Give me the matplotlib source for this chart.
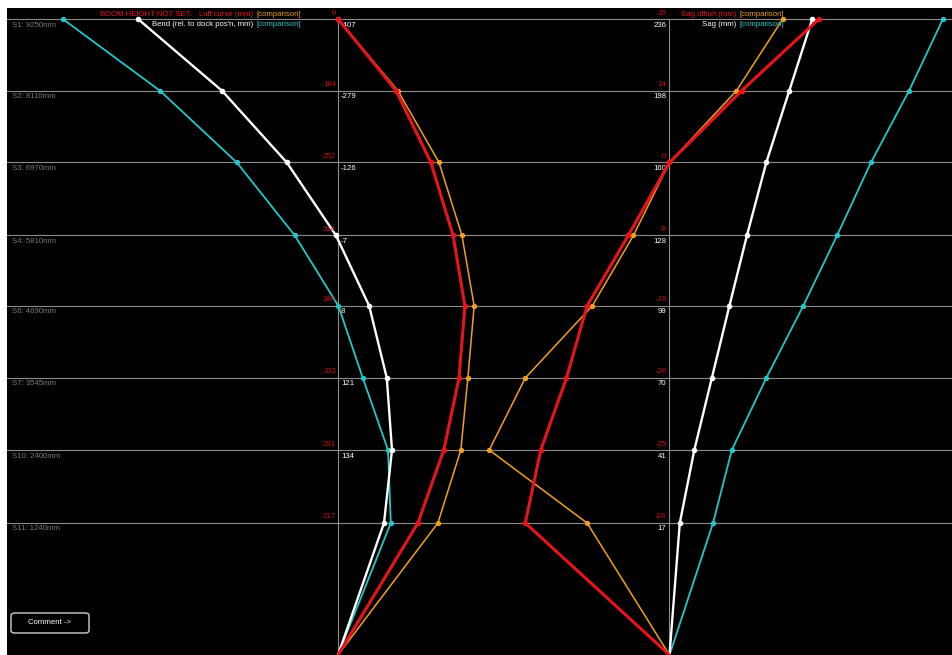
import matplotlib
matplotlib.use("Agg")
import matplotlib.pyplot as plt
from matplotlib.patches import FancyBboxPatch

# ---------------- data ----------------
stations = ["S1: 9250mm", "S2: 8110mm", "S3: 6970mm", "S4: 5810mm",
            "S6: 4690mm", "S7: 3545mm", "S10: 2400mm", "S11: 1240mm"]
heights = [9250, 8110, 6970, 5810, 4690, 3545, 2400, 1240]
tack_height = -858          # all curves meet here (bottom edge)

bend = [-500, -290, -128, -5, 78, 122, 135, 115]
bend_cmp = [-688, -445, -253, -108, 1, 62, 125, 132]
bend_labels = ["-407", "-279", "-126", "-7", "8", "121", "134", ""]

luff = [0, 157, 251, 311, 343, 327, 286, 216]
luff_cmp = [0, 162, 273, 335, 368, 351, 332, 270]
luff_labels = ["0", "184", "252", "314", "340", "333", "291", "217"]

sag = [236, 198, 160, 128, 99, 70, 41, 17]
sag_cmp = [452, 396, 333, 277, 221, 160, 103, 72]
sag_labels = ["236", "198", "160", "128", "99", "70", "41", "17"]

sag_off = [29, 14, 0, -8, -16, -20, -25, -28]
sag_off_cmp = [22, 13, 0, -7, -15, -28, -35, -16]
sag_off_labels = ["29", "14", "0", "-8", "-16", "-20", "-25", "-28"]

# ---------------- style ----------------
W, H = 952, 655
RED = "#e8141a"
ORANGE = "#f0a020"
CYAN = "#22c8c8"
WHITE = "#ffffff"
GRID = "#8c8c8c"
LABEL_RED = "#c81010"
STATION_GREY = "#7a7a7a"
FS = 5.6
FONT = ["Liberation Sans", "DejaVu Sans"]
plt.rcParams["font.family"] = FONT

fig = plt.figure(figsize=(W / 100, H / 100), dpi=100, facecolor="white")
ax_left_px, ax_top_px = 7, 8
ax = fig.add_axes([ax_left_px / W, 0, (W - ax_left_px) / W, (H - ax_top_px) / H])
ax.set_facecolor("black")
for s in ax.spines.values():
    s.set_visible(False)
ax.set_xticks([]); ax.set_yticks([])

ylim = (tack_height, 9425)
ax.set_ylim(*ylim)


def make_axis(zero_px, px_per_unit, first=False):
    a = ax if first else ax.twiny()
    a.set_xlim((ax_left_px - zero_px) / px_per_unit, (W - zero_px) / px_per_unit)
    a.set_ylim(*ylim)
    a.set_xticks([]); a.set_yticks([])
    for s in a.spines.values():
        s.set_visible(False)
    if not first:
        a.patch.set_visible(False)
    return a


ax_bend = make_axis(338, 0.40, first=True)
ax_luff = make_axis(338, 0.37)
ax_sag = make_axis(669.5, 0.605)
ax_off = make_axis(669.5, 5.15)

# grid lines
for h in heights:
    ax.axhline(h, color=GRID, lw=0.8, zorder=1)
ax_bend.plot([0, 0], [tack_height, heights[0]], color=GRID, lw=0.8, zorder=1)
ax_sag.plot([0, 0], [tack_height, heights[0]], color=GRID, lw=0.8, zorder=1)

ys = heights + [tack_height]


def series(a, vals, color, lw, ms, z):
    a.plot(list(vals) + [0], ys, color=color, lw=lw, zorder=z)
    a.plot(vals, heights, "o", color=color, ms=ms, mec=color, zorder=z + 0.1)


series(ax_bend, bend_cmp, CYAN, 1.3, 2.8, 3)
series(ax_bend, bend, WHITE, 1.7, 3.0, 4)
series(ax_luff, luff_cmp, ORANGE, 1.1, 2.8, 3)
series(ax_luff, luff, RED, 2.2, 3.0, 4)
series(ax_off, sag_off_cmp, ORANGE, 1.1, 2.8, 3)
series(ax_off, sag_off, RED, 2.2, 3.0, 4)
series(ax_sag, sag_cmp, CYAN, 1.3, 2.8, 3)
series(ax_sag, sag, WHITE, 1.7, 3.0, 4)

# ---------------- labels ----------------
for st, h in zip(stations, heights):
    ax.annotate(st, xy=(0, h), xycoords=("axes fraction", "data"),
                xytext=(5, -6), textcoords="offset pixels", ha="left", va="center",
                color=STATION_GREY, fontsize=FS, zorder=6)

for lab, h in zip(luff_labels, heights):
    ax_luff.annotate(lab, xy=(0, h), xytext=(-2, 6), textcoords="offset pixels",
                     ha="right", va="center", color=LABEL_RED, fontsize=FS, zorder=6)
for lab, h in zip(bend_labels, heights):
    if lab:
        ax_bend.annotate(lab, xy=(0, h), xytext=(3, -6), textcoords="offset pixels",
                         ha="left", va="center", color=WHITE, fontsize=FS, zorder=6)
for lab, h in zip(sag_off_labels, heights):
    ax_off.annotate(lab, xy=(0, h), xytext=(-3, 6), textcoords="offset pixels",
                    ha="right", va="center", color=LABEL_RED, fontsize=FS, zorder=6)
for lab, h in zip(sag_labels, heights):
    ax_sag.annotate(lab, xy=(0, h), xytext=(-3, -6), textcoords="offset pixels",
                    ha="right", va="center", color=WHITE, fontsize=FS, zorder=6)

# ---------------- headers ----------------
renderer = fig.canvas.get_renderer()


def header(x_right, y_px, parts):
    x = x_right
    for s, c, gap in reversed(parts):
        t = fig.text(x / W, 1 - y_px / H, s, color=c, ha="right", va="center",
                     fontsize=FS, zorder=10)
        bb = t.get_window_extent(renderer)
        x -= bb.width + gap


header(301, 14, [("BOOM HEIGHT NOT SET.", RED, 0), ("Luff curve (mm)", RED, 8),
                 ("[comparison]", ORANGE, 3)])
header(301, 24, [("Bend (rel. to dock pos'n, mm)", WHITE, 0), ("[comparison]", CYAN, 3)])
header(784, 14, [("Sag offset (mm)", RED, 0), ("[comparison]", ORANGE, 3)])
header(784, 24, [("Sag (mm)", WHITE, 0), ("[comparison]", CYAN, 3)])

# ---------------- comment button ----------------
bx0, by0, bx1, by1 = 11, 613, 89, 633
btn = FancyBboxPatch((bx0 / W, 1 - by1 / H), (bx1 - bx0) / W, (by1 - by0) / H,
                     boxstyle="round,pad=0,rounding_size=0.004",
                     transform=fig.transFigure, facecolor="black",
                     edgecolor="#d0d0d0", lw=1.0, zorder=10)
fig.patches.append(btn)
fig.text((bx0 + bx1) / 2 / W, 1 - (by0 + by1) / 2 / H, "Comment ->", color=WHITE,
         ha="center", va="center", fontsize=FS, zorder=11)

fig.savefig("out.png", dpi=100, facecolor="white")
